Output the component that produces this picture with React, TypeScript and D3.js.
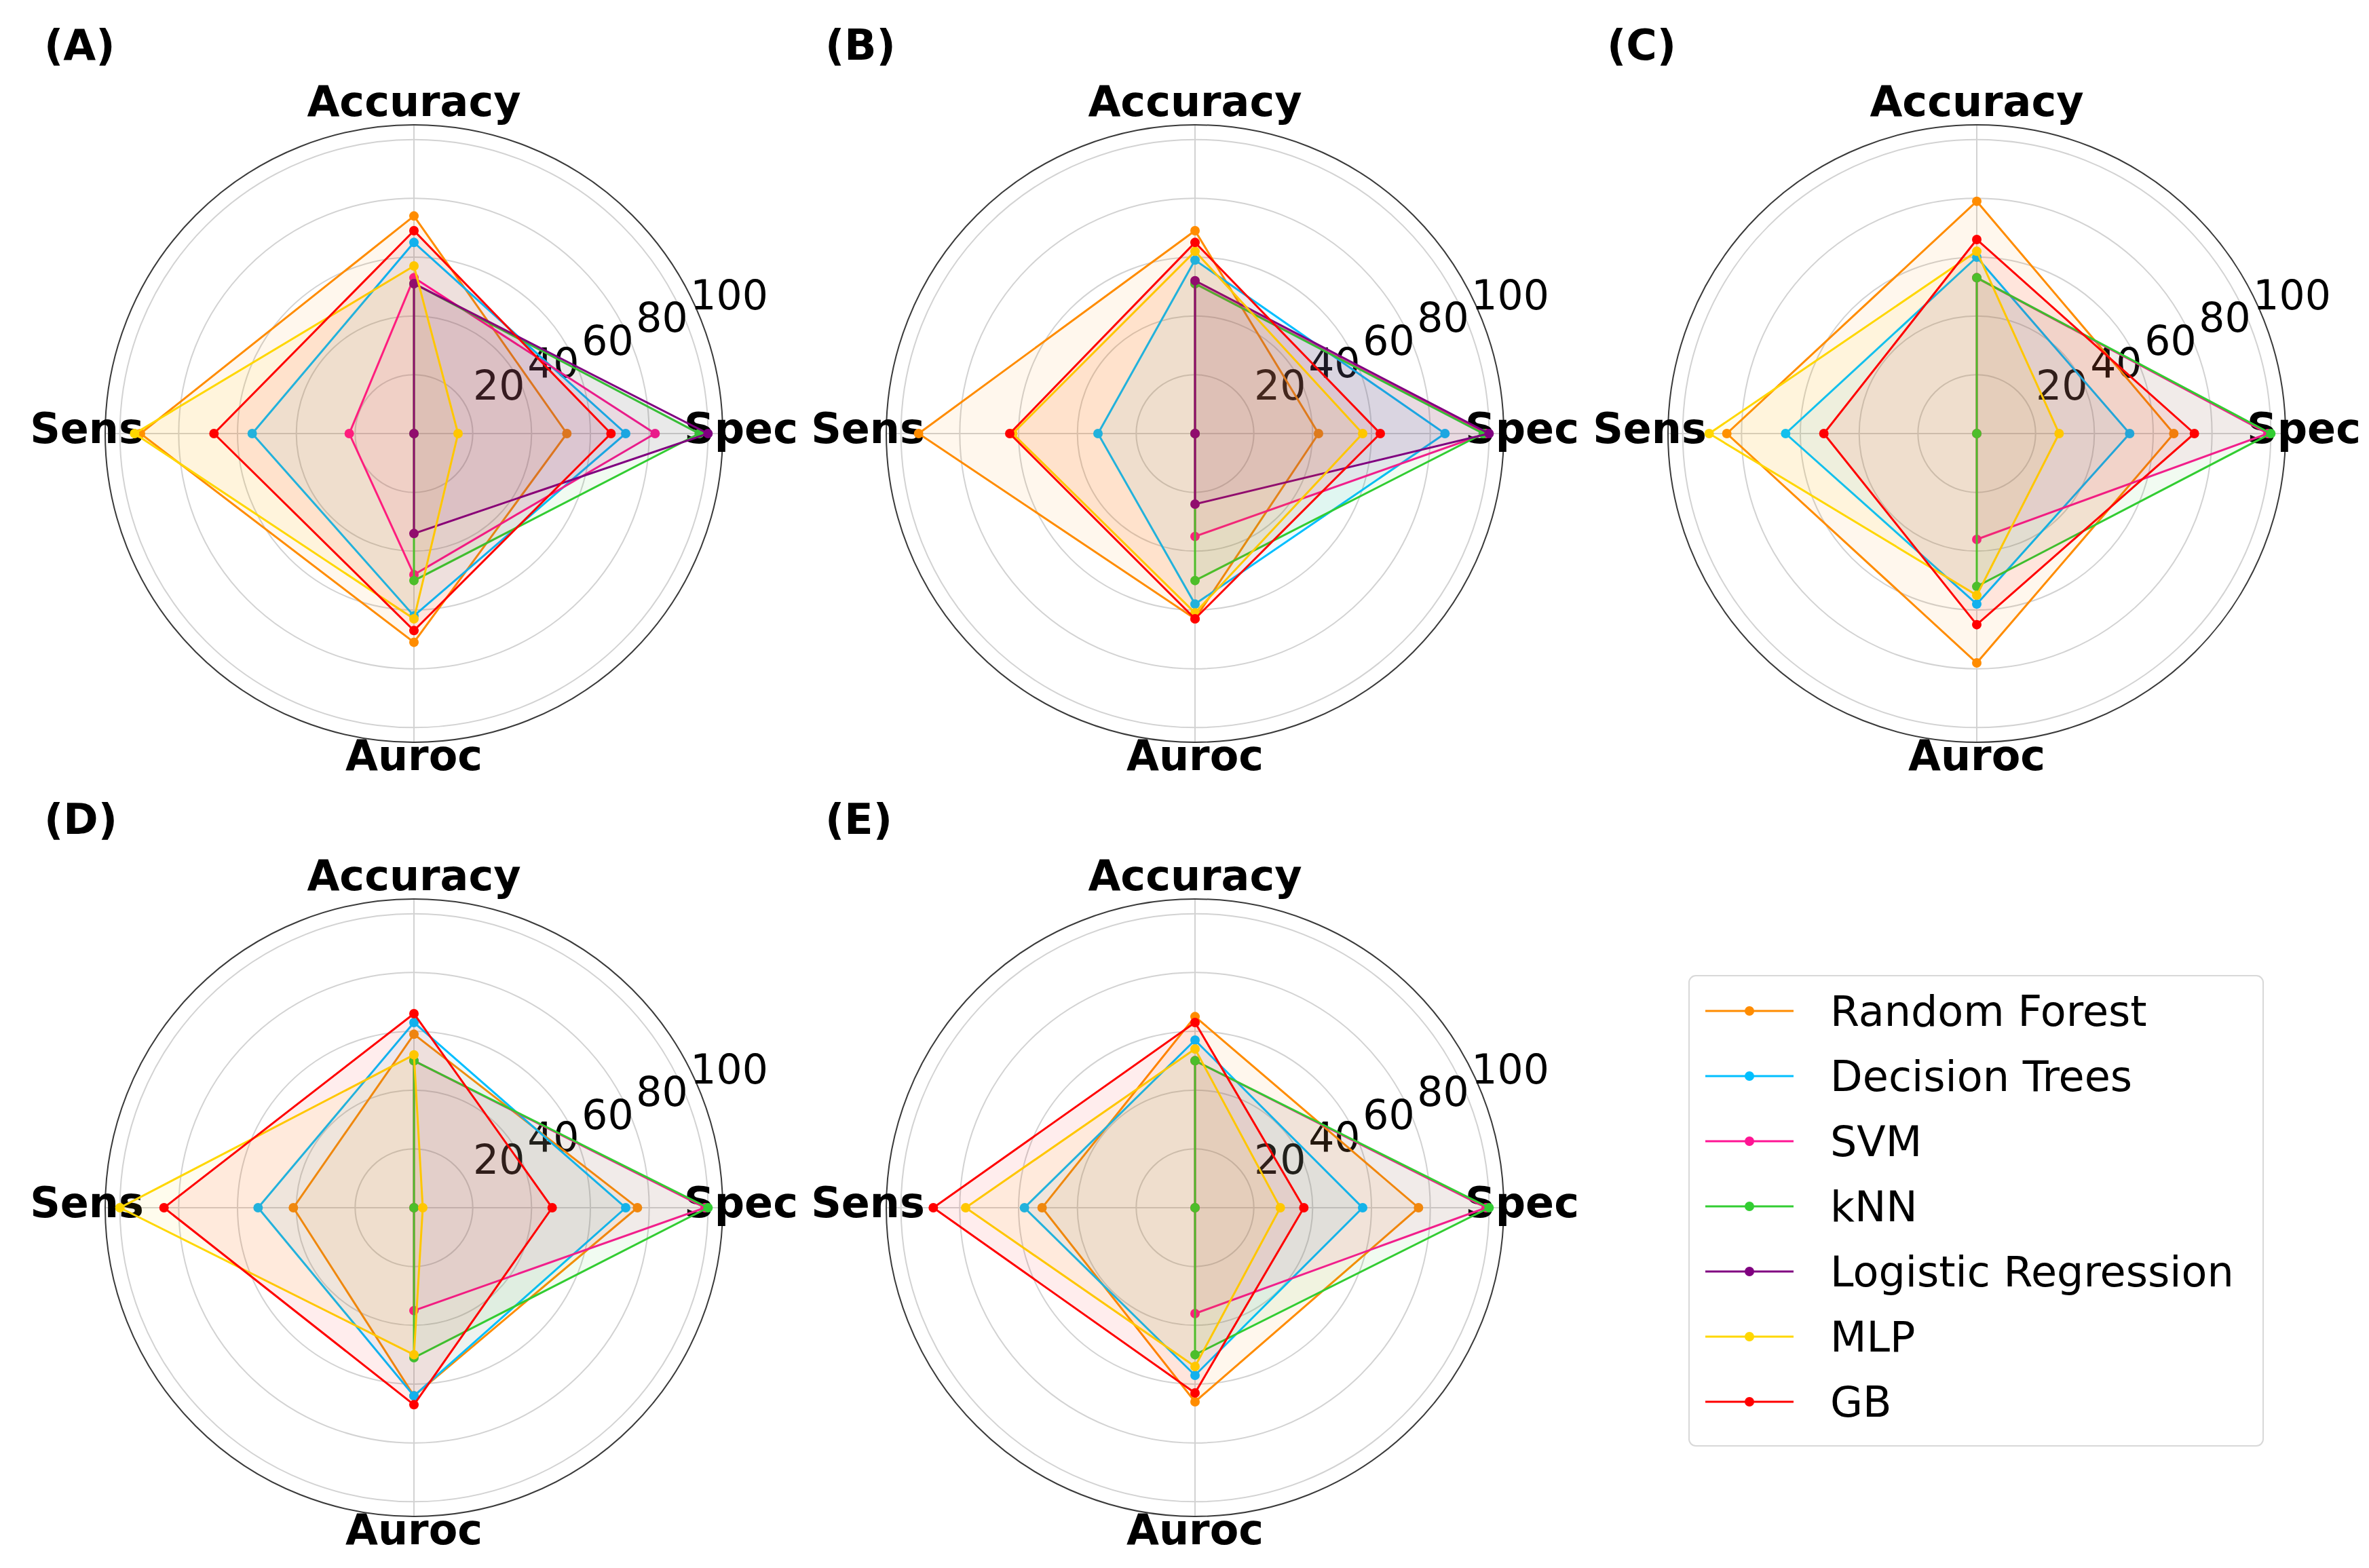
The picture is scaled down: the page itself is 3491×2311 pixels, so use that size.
import React from "react";
import * as d3 from "d3";

const axesLabels = ["Accuracy", "Sens", "Auroc", "Spec"];
const models = ["Random Forest", "Decision Trees", "SVM", "kNN", "Logistic Regression", "MLP", "GB"];
const colors = ["#FF8C00", "#00BFFF", "#FF1493", "#32CD32", "#800080", "#FFD700", "#FF0000"];
const panelNames = ["(A)", "(B)", "(C)", "(D)", "(E)"];
const rTicks = [20, 40, 60, 80, 100];

// values per model in order Accuracy, Sens, Auroc, Spec (null = not drawn)
const panelA = [
  [74, 93, 71, 52],
  [65, 55, 62, 72],
  [53, 22, 48, 82],
  [51, 0, 50, 97],
  [51, 0, 34, 100],
  [57, 95, 63, 15],
  [69, 68, 67, 67],
];
const panelB = [
  [69, 94, 63, 42],
  [59, 33, 58, 85],
  [51, 0, 35, 99],
  [51, 0, 50, 98],
  [52, 0, 24, 100],
  [62, 62, 61, 57],
  [65, 63, 63, 63],
];
const panelC = [
  [79, 85, 78, 67],
  [60, 65, 58, 52],
  [53, 0, 36, 99],
  [53, 0, 52, 100],
  null,
  [62, 91, 55, 28],
  [66, 52, 65, 74],
];
const panelD = [
  [59, 41, 64, 76],
  [63, 53, 64, 72],
  [50, 0, 35, 99],
  [50, 0, 51, 100],
  null,
  [52, 100, 50, 3],
  [66, 85, 67, 47],
];
const panelE = [
  [65, 52, 66, 76],
  [57, 58, 57, 57],
  [50, 0, 36, 99],
  [50, 0, 50, 100],
  null,
  [54, 78, 54, 29],
  [63, 89, 63, 37],
];
const panels = [panelA, panelB, panelC, panelD, panelE];

const W = 3491;
const H = 2311;
const centers = [
  [610, 639],
  [1761, 639],
  [2913, 639],
  [610, 1780],
  [1761, 1780],
];
const FONT = "DejaVu Sans, sans-serif";

const rScale = d3.scaleLinear().domain([0, 105]).range([0, 455]);
// d3 radial angle: 0 = up, clockwise
const angleScale = d3.scaleOrdinal<string, number>().domain(axesLabels).range([0, -Math.PI / 2, Math.PI, Math.PI / 2]);

function pt(label: string, v: number): [number, number] {
  const a = angleScale(label);
  const r = rScale(v);
  return [r * Math.sin(a), -r * Math.cos(a)];
}

function Panel({ idx }: { idx: number }) {
  const [cx, cy] = centers[idx];
  const data = panels[idx];
  const line = d3
    .lineRadial<number>()
    .angle((_, i) => angleScale(axesLabels[i]))
    .radius((d) => rScale(d))
    .curve(d3.curveLinearClosed);
  const rlabelAngle = (22.5 * Math.PI) / 180;
  return (
    <g transform={`translate(${cx},${cy})`}>
      <text x={65 - 610} y={88 - 639} fontFamily={FONT} fontWeight="bold" fontSize={62} fill="#000">
        {panelNames[idx]}
      </text>
      {rTicks.map((t) => (
        <circle key={t} r={rScale(t)} fill="none" stroke="#d2d2d2" strokeWidth={2} />
      ))}
      {axesLabels.map((l) => {
        const [x, y] = pt(l, 105);
        return <line key={l} x1={0} y1={0} x2={x} y2={y} stroke="#d2d2d2" strokeWidth={2} />;
      })}
      <circle r={rScale(105)} fill="none" stroke="#3a3a3a" strokeWidth={2} />
      {rTicks.map((t) => (
        <text
          key={t}
          x={rScale(t) * Math.cos(rlabelAngle) + 7}
          y={-rScale(t) * Math.sin(rlabelAngle) - 17}
          fontFamily={FONT}
          fontSize={60}
          fill="#000"
        >
          {t}
        </text>
      ))}
      {axesLabels.map((l) => {
        const a = angleScale(l);
        const R = 482;
        return (
          <text
            key={l}
            x={R * Math.sin(a)}
            y={-R * Math.cos(a) + 14}
            textAnchor="middle"
            fontFamily={FONT}
            fontWeight="bold"
            fontSize={62}
            fill="#000"
          >
            {l}
          </text>
        );
      })}
      {data.map((vals, si) => {
        if (!vals) return null;
        const c = colors[si];
        return (
          <g key={si}>
            <path d={line(vals) || ""} fill="none" stroke={c} strokeWidth={3} />
            {vals.map((v, i) => {
              const [x, y] = pt(axesLabels[i], v);
              return <circle key={i} cx={x} cy={y} r={7} fill={c} />;
            })}
            <path d={line(vals) || ""} fill={c} fillOpacity={0.07} stroke="none" />
          </g>
        );
      })}
    </g>
  );
}

function Legend() {
  const x0 = 2489;
  const y0 = 1438;
  const w = 846;
  const h = 693;
  const rowY = d3.scaleLinear().domain([0, 6]).range([y0 + 52, y0 + 52 + 6 * 96]);
  return (
    <g>
      <rect x={x0} y={y0} width={w} height={h} rx={10} ry={10} fill="#fff" stroke="#d8d8d8" strokeWidth={2} />
      {models.map((m, i) => {
        const y = rowY(i);
        return (
          <g key={m}>
            <line x1={2513} x2={2643} y1={y} y2={y} stroke={colors[i]} strokeWidth={3} />
            <circle cx={2578} cy={y} r={7} fill={colors[i]} />
            <text x={2697} y={y + 22} fontFamily={FONT} fontSize={62} fill="#000">
              {m}
            </text>
          </g>
        );
      })}
    </g>
  );
}

export default function App() {
  return (
    <svg
      width={W}
      height={H}
      viewBox={`0 0 ${W} ${H}`}
      style={{ position: "absolute", left: 0, top: 0, background: "#fff" }}
    >
      <rect width={W} height={H} fill="#fff" />
      {panels.map((_, i) => (
        <Panel key={i} idx={i} />
      ))}
      <Legend />
    </svg>
  );
}
